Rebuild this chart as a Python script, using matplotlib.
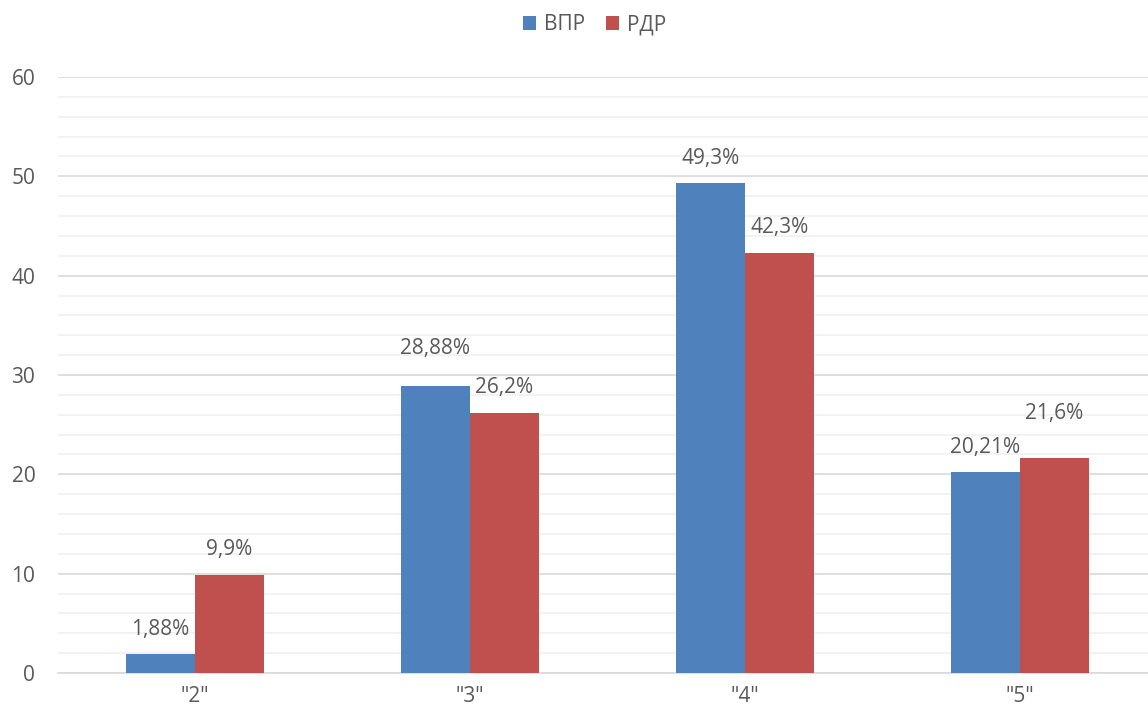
import numpy as np
import matplotlib.pyplot as plt
from matplotlib.ticker import MultipleLocator

#Data
categories = ['"2"', '"3"', '"4"', '"5"']
vpr = [1.88, 28.88, 49.3, 20.21]
rdr = [9.9, 26.2, 42.3, 21.6]
vpr_labels = ["1,88%", "28,88%", "49,3%", "20,21%"]
rdr_labels = ["9,9%", "26,2%", "42,3%", "21,6%"]

blue = "#4f81bd"
red = "#c0504d"
grey = "#595959"

plt.rcParams['font.family'] = ['Open Sans', 'DejaVu Sans']
fs = 15

fig = plt.figure(figsize=(11.48, 7.13), dpi=100)
ax = fig.add_axes([0.0501, 0.0561, 0.958, 0.8359])

x = np.arange(len(categories))
w = 0.251
b1 = ax.bar(x - w / 2, vpr, w, color=blue, label="ВПР", zorder=3)
b2 = ax.bar(x + w / 2, rdr, w, color=red, label="РДР", zorder=3)

#Data labels (Excel nudged a couple of them up to avoid overlap)
vpr_extra = [0, 9, 0, 0]
rdr_extra = [0, 0, 0, 14]
for i in range(len(categories)):
    ax.annotate(vpr_labels[i], (x[i] - w / 2, vpr[i]), xytext=(0, 18 + vpr_extra[i]), textcoords="offset points",
                ha="center", va="center", fontsize=fs, color=grey)
    ax.annotate(rdr_labels[i], (x[i] + w / 2, rdr[i]), xytext=(0, 18 + rdr_extra[i]), textcoords="offset points",
                ha="center", va="center", fontsize=fs, color=grey)

ax.set_xlim(-0.5, 3.5)
ax.set_ylim(0, 60)
ax.yaxis.set_major_locator(MultipleLocator(10))
ax.yaxis.set_minor_locator(MultipleLocator(2))
ax.grid(axis="y", which="major", color="#d9d9d9", linewidth=1.2, zorder=0)
ax.grid(axis="y", which="minor", color="#f0f0f0", linewidth=1.2, zorder=0)
ax.set_xticks(x)
ax.set_xticklabels(categories)
ax.tick_params(axis="both", which="both", length=0, labelsize=fs, labelcolor=grey)
ax.tick_params(axis="x", pad=9)
ax.tick_params(axis="y", pad=16)
for s in ["top", "right", "left"]:
    ax.spines[s].set_visible(False)
ax.spines["bottom"].set_color("#d9d9d9")
ax.spines["bottom"].set_linewidth(1.2)

leg = fig.legend(handles=[b1, b2], loc="center", bbox_to_anchor=(0.518, 0.965), ncol=2, frameon=False,
                 fontsize=fs, handlelength=0.6, handleheight=0.6, handletextpad=0.4, columnspacing=1.0)
for t in leg.get_texts():
    t.set_color(grey)

fig.savefig("out.png", dpi=100)
